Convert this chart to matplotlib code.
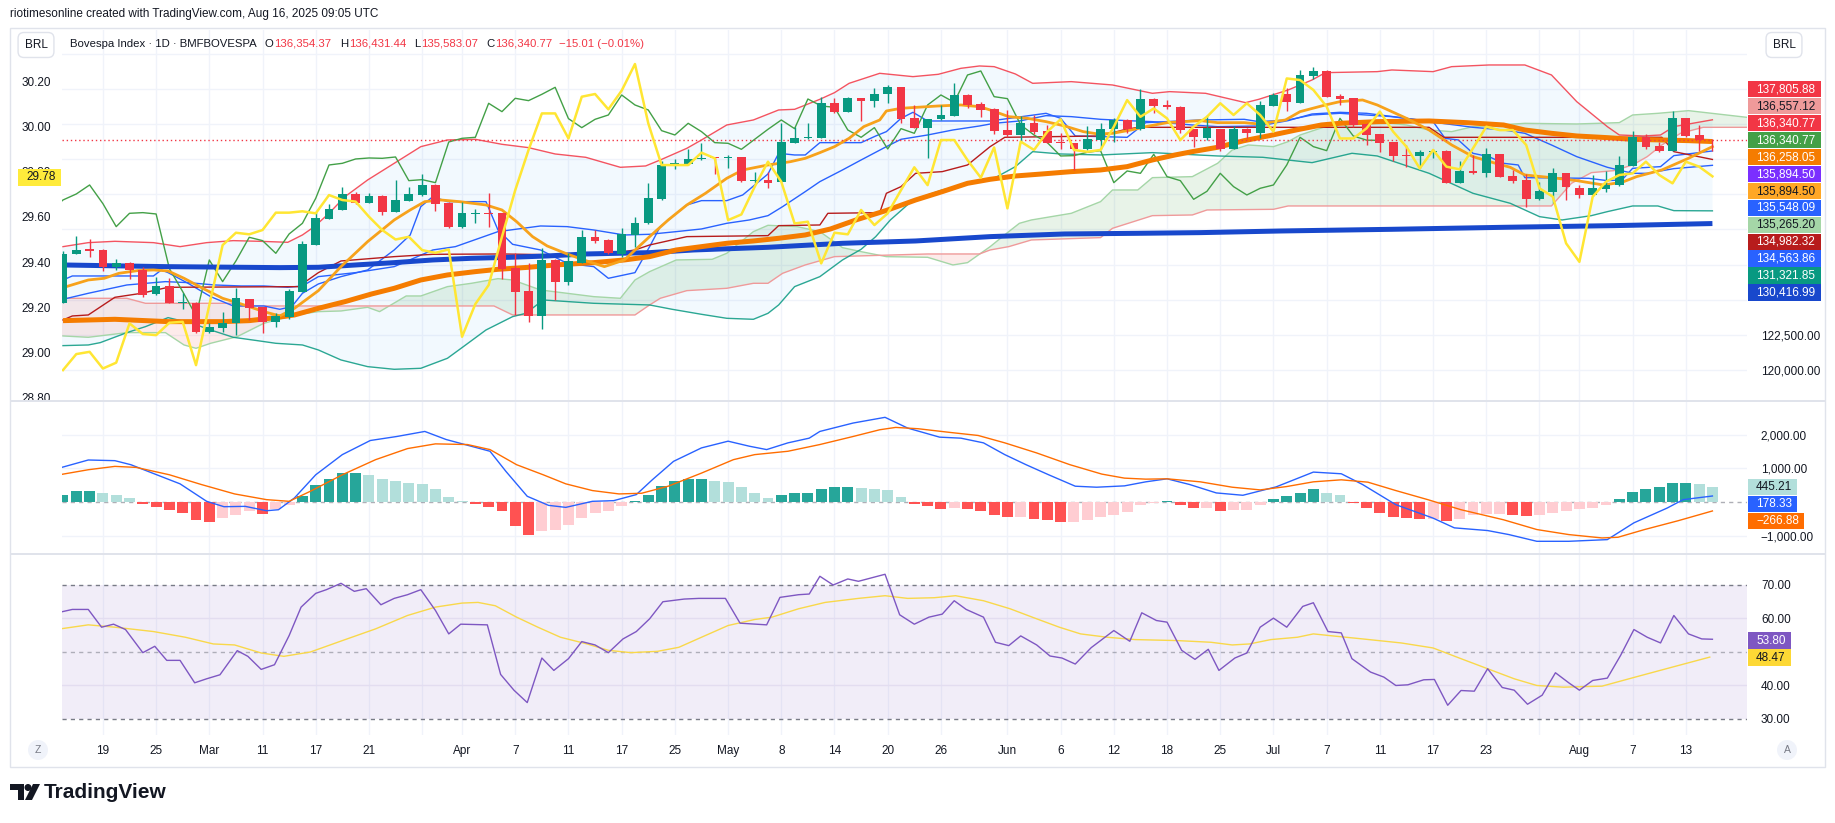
import numpy as np
import pandas as pd
import matplotlib
matplotlib.use("Agg")
import matplotlib.pyplot as plt
from matplotlib.patches import Rectangle, Ellipse, Polygon

plt.rcParams['font.family'] = ['Liberation Sans', 'DejaVu Sans']

W, H = 1835, 823
INK = '#131722'
UP, DOWN = '#089981', '#F23645'

# trading days on B3, Feb 14 - Aug 15 2025
b3_holidays = ['2025-03-03', '2025-03-04', '2025-04-18', '2025-04-21', '2025-05-01', '2025-06-19']
days = pd.bdate_range('2025-02-14', '2025-08-15')
days = days[~days.isin(pd.to_datetime(b3_holidays))]

tick_days = ['2025-02-19', '2025-02-25', '2025-03-05', '2025-03-11', '2025-03-17', '2025-03-21',
             '2025-04-01', '2025-04-07', '2025-04-11', '2025-04-17', '2025-04-25', '2025-05-02',
             '2025-05-08', '2025-05-14', '2025-05-20', '2025-05-26', '2025-06-02', '2025-06-06',
             '2025-06-12', '2025-06-18', '2025-06-25', '2025-07-01', '2025-07-07', '2025-07-11',
             '2025-07-17', '2025-07-23', '2025-08-01', '2025-08-07', '2025-08-13']
tick_labels = ['19', '25', 'Mar', '11', '17', '21', 'Apr', '7', '11', '17', '25', 'May', '8', '14',
               '20', '26', 'Jun', '6', '12', '18', '25', 'Jul', '7', '11', '17', '23', 'Aug', '7', '13']
grid_only_days = ['2025-03-27', '2025-07-29']

# Bovespa daily OHLC
opens = [124784, 128226, 128582, 128535, 127301, 127585, 127111, 125378, 125971, 124737,
         124737, 122719, 123004, 123312, 125021, 124452, 123431, 123787, 125567, 128915,
         130767, 131408, 132523, 131906, 132381, 131265, 132049, 132452, 133164, 131882,
         130197, 131099, 131194, 131146, 127229, 125615, 123858, 127823, 126280, 127633,
         129437, 129247, 128250, 129603, 130434, 132167, 134541, 134660, 135016, 135135,
         135087, 135135, 133473, 133520, 133402, 136179, 136488, 136535, 138981, 138387,
         139337, 139171, 139622, 140120, 137912, 137248, 137841, 138102, 139574, 138933,
         138577, 137081, 136725, 137556, 137010, 136227, 136132, 135704, 136369, 137129,
         137794, 137153, 139289, 138862, 138719, 137129, 136535, 137129, 135752, 137176,
         136844, 138814, 139622, 139028, 140951, 141283, 139503, 139337, 137509, 136773,
         136203, 135301, 135253, 135538, 135586, 133330, 134161, 133995, 135348, 133805,
         133520, 132143, 132689, 133995, 132927, 132452, 132903, 133141, 134541, 136559,
         135918, 135610, 137912, 136725, 136354.37]
highs = [128464, 129532, 129295, 128582, 127870, 127680, 127301, 126636, 126517, 125496,
         124855, 123312, 124119, 125805, 125068, 124499, 124024, 125734, 129176, 131265,
         131811, 133022, 132689, 132571, 132428, 133520, 132998, 133924, 133211, 131930,
         131977, 131431, 132571, 131194, 128298, 127585, 128654, 127870, 128345, 129959,
         129959, 129295, 130078, 130909, 133283, 134897, 134992, 135728, 136132, 135182,
         135277, 135182, 134114, 134114, 137604, 137319, 137604, 139408, 139337, 139408,
         139384, 140049, 140286, 140168, 138862, 137889, 138862, 140405, 139622, 139099,
         138624, 138506, 138078, 138150, 137437, 136891, 136179, 137366, 137604, 137912,
         137841, 139978, 139337, 139218, 138767, 137176, 138150, 137176, 137366, 137224,
         139147, 139693, 140049, 141355, 141592, 141355, 139645, 139384, 137556, 136820,
         136250, 135989, 135657, 135728, 135633, 134874, 135301, 135776, 135396, 134233,
         133948, 133402, 134399, 134043, 133164, 133876, 134185, 135230, 137034, 136797,
         136250, 138435, 137960, 137437, 136431.44]
lows = [124784, 128226, 128060, 127063, 127111, 126493, 125211, 125330, 124737, 124333,
        122600, 122647, 122719, 122481, 123550, 122647, 123027, 123597, 125520, 128868,
        130719, 131360, 131811, 131859, 131051, 131218, 132001, 132405, 131336, 130126,
        130126, 130434, 130197, 126493, 123906, 123431, 122885, 124974, 126042, 127585,
        129010, 128226, 128013, 128772, 130387, 132120, 134280, 134613, 134945, 133971,
        134399, 133402, 133283, 132927, 133354, 136132, 136440, 136488, 138268, 138340,
        137746, 138696, 139028, 137604, 137200, 135063, 137794, 138055, 138624, 138031,
        136797, 136559, 136250, 136797, 136132, 135704, 134233, 135657, 135704, 136250,
        136844, 137105, 138316, 138553, 136891, 135894, 136369, 135610, 135704, 136488,
        136488, 138767, 138458, 138981, 140690, 139408, 138862, 137319, 136013, 135538,
        134874, 134423, 134351, 135063, 133283, 133283, 133948, 133710, 133710, 133330,
        131574, 132096, 131906, 132096, 132215, 132357, 132689, 133093, 134494, 135704,
        135538, 135562, 136559, 135610, 135583.07]
closes = [128250, 128535, 128488, 127301, 127585, 127111, 125330, 125971, 124737, 124855,
          122719, 123075, 123360, 125093, 124428, 123431, 123834, 125615, 128939, 130790,
          131455, 132523, 131859, 132381, 131241, 132096, 132523, 133164, 131835, 130197,
          131146, 131194, 131099, 127206, 125567, 123858, 127823, 126280, 127752, 129437,
          129200, 128298, 129675, 130434, 132215, 134589, 134707, 135016, 135087, 135063,
          135158, 133473, 133544, 133330, 136227, 136488, 136559, 138981, 138387, 139337,
          139171, 139622, 140120, 137889, 137248, 137841, 138150, 139574, 138862, 138506,
          137034, 136725, 137556, 136963, 136179, 136132, 135704, 136417, 137129, 137794,
          137176, 139289, 138791, 138696, 137081, 136559, 137248, 135728, 137176, 136844,
          138862, 139574, 139052, 140998, 141283, 139455, 139313, 137437, 136725, 136179,
          135230, 135254, 135491, 135610, 133330, 134161, 133995, 135348, 133758, 133473,
          132143, 132713, 133995, 133046, 132452, 132927, 133164, 134589, 136559, 135894,
          135610, 137912, 136654, 136356, 136340.77]

# overlay symbol on the left scale (yellow)
yellow = [28.921, 28.992, 29.002, 28.928, 28.954, 29.128, 29.081, 29.076, 29.131, 29.135,
          28.943, 29.209, 29.475, 29.530, 29.523, 29.542, 29.619, 29.619, 29.625, 29.616,
          29.697, 29.675, 29.668, 29.601, 29.542, 29.500, 29.512, 29.453, 29.441, 29.456,
          29.069, 29.214, 29.298, 29.512, 29.719, 29.897, 30.059, 30.059, 29.948, 30.133,
          30.145, 30.077, 30.160, 30.278, 30.015, 29.830, 29.830, 29.830, 29.885, 29.860,
          29.586, 29.611, 29.734, 29.845, 29.756, 29.571, 29.579, 29.394, 29.530, 29.523,
          29.631, 29.564, 29.616, 29.719, 29.820, 29.741, 29.941, 29.941, 29.852, 29.774,
          29.908, 29.638, 29.934, 29.897, 29.978, 30.033, 29.897, 29.889, 29.897, 30.000,
          30.118, 30.044, 30.081, 30.037, 29.941, 30.000, 30.044, 30.104, 30.052, 30.104,
          30.052, 29.978, 30.214, 30.207, 30.163, 30.089, 29.948, 29.948, 29.993, 30.067,
          29.978, 29.911, 29.815, 29.897, 29.823, 29.811, 29.904, 30.000, 29.985, 29.985,
          29.919, 29.727, 29.690, 29.483, 29.401, 29.690, 29.756, 29.786, 29.793, 29.845,
          29.786, 29.749, 29.845, 29.823, 29.78]

# Bollinger bands (x in bar positions)
bb_up_x = [0.0, 1.9, 3.9, 6.8, 8.8, 10.8, 12.8, 14.8, 16.9, 18.0, 18.9, 20.0, 21.2, 22.9, 24.9,
           26.9, 28.9, 31.0, 33.0, 35.0, 37.0, 39.3, 41.9, 43.8, 44.9, 46.9, 48.0, 49.9, 51.9,
           53.8, 55.0, 56.9, 58.0, 59.1, 61.4, 63.9, 65.8, 67.5, 68.9, 70.0, 71.6, 72.9, 75.8,
           78.9, 81.9, 83.2, 85.9, 88.9, 89.9, 92.1, 93.9, 94.9, 98.8, 99.9, 103.0, 104.4, 107.2,
           109.9, 111.9, 113.8, 116.1, 117.0, 118.8, 120.1, 121.1, 124.0]
bb_up_v = [128772, 129057, 129152, 129057, 128772, 129057, 129200, 129152, 129081, 129603,
           130197, 131146, 132333, 133520, 134707, 135894, 136369, 136417, 136061, 135823,
           135372, 135135, 134423, 134518, 134945, 135776, 136369, 137437, 137794, 138506,
           138553, 139266, 139740, 140405, 141117, 140880, 141046, 141473, 141640, 141592,
           141070, 140405, 140524, 140286, 139693, 139812, 139693, 139028, 139266, 139930,
           140642, 141165, 141236, 141355, 141236, 141592, 141711, 141711, 141000, 139099,
           137319, 136725, 136654, 136725, 137319, 137806]
bb_lo_x = [0.0, 1.9, 2.8, 4.8, 6.2, 7.9, 9.7, 11.1, 12.8, 14.6, 16.0, 18.0, 19.2, 20.9, 22.9,
           24.9, 26.9, 28.9, 30.1, 31.8, 33.8, 34.8, 36.1, 39.9, 44.1, 45.8, 48.0, 49.9, 51.9,
           53.0, 53.8, 55.0, 56.9, 58.6, 60.0, 61.1, 62.2, 63.9, 66.1, 68.3, 70.0, 71.6, 72.9,
           75.0, 78.0, 81.9, 86.8, 90.2, 93.9, 96.9, 98.8, 102.7, 106.0, 108.8, 111.0, 112.7,
           114.9, 116.1, 118.0, 119.9, 121.1, 124.0]
bb_lo_v = [121722, 121769, 121935, 122647, 123075, 123716, 123312, 122837, 122315, 122078,
           121888, 121769, 121413, 120701, 120226, 120036, 120107, 120820, 121651, 122837,
           123787, 124024, 124974, 124737, 124618, 124309, 123953, 123668, 123597, 124024,
           124618, 125924, 126636, 127823, 128582, 129485, 130672, 132096, 132808, 133283,
           133639, 134470, 135538, 135372, 135301, 135467, 135230, 135135, 134755, 135420,
           135230, 133995, 132571, 131859, 130909, 130672, 130980, 131265, 131669, 131669,
           131336, 131322]
bb_mid_x = [0.0, 1.9, 4.8, 7.7, 9.4, 11.4, 13.4, 15.1, 16.9, 18.0, 19.2, 22.0, 24.9, 27.8, 29.5,
            32.7, 35.9, 37.9, 39.9, 42.2, 44.1, 46.1, 48.0, 49.9, 51.6, 53.0, 54.1, 55.8, 56.9,
            58.6, 60.0, 61.9, 63.0, 65.0, 66.9, 68.9, 70.0, 71.9, 73.9, 75.8, 78.0, 80.0, 81.9,
            84.9, 86.8, 89.9, 92.1, 93.9, 96.0, 98.0, 101.0, 102.7, 106.0, 108.3, 109.9, 111.9,
            113.8, 116.1, 118.0, 119.1, 121.1, 124.0]
bb_mid_v = [125021, 125449, 126042, 126280, 126209, 126042, 125971, 125971, 125876, 125971,
            126636, 126921, 127348, 128535, 128772, 129841, 130244, 130197, 129959, 129603,
            129651, 129841, 130031, 130434, 130672, 130980, 131621, 132689, 133402, 134233,
            134945, 135894, 136417, 136725, 137081, 137366, 137556, 137722, 138102, 138031,
            137841, 137746, 137675, 137437, 137319, 137366, 137746, 138221, 138340, 138268,
            137912, 137675, 137271, 137081, 136844, 136013, 135182, 134423, 133995, 133995,
            134328, 134564]

# Ichimoku
tk_x = [0.0, 0.7, 6.8, 7.4, 7.9, 9.4, 11.1, 12.8, 15.1, 16.3, 17.2, 18.0, 19.2, 20.9, 22.9,
        24.9, 26.1, 26.9, 27.8, 28.9, 31.8, 32.7, 33.8, 35.9, 37.9, 39.9, 41.0, 43.0, 44.1, 44.9,
        46.9, 48.0, 49.9, 51.1, 53.0, 53.8, 55.0, 55.8, 56.9, 60.0, 61.1, 61.9, 63.0, 63.9, 65.0,
        69.7, 73.9, 75.0, 76.1, 80.0, 81.4, 85.5, 88.8, 89.9, 92.1, 93.9, 96.0, 99.9, 103.0,
        103.9, 104.9, 106.0, 107.2, 108.3, 109.4, 109.9, 114.7, 116.1, 117.2, 118.0, 120.1,
        121.1, 124.0]
tk_v = [126398, 126683, 126683, 127111, 126921, 126161, 125211, 124547, 124547, 124309,
        124499, 125449, 126114, 126636, 127111, 128535, 129603, 131621, 132333, 131977,
        131977, 129959, 128938, 128535, 127585, 127348, 126517, 126921, 128772, 130197,
        131740, 132049, 132049, 132452, 133948, 135420, 135301, 135301, 136179, 136179,
        136654, 136963, 137912, 138340, 137722, 137722, 138268, 137912, 136654, 136559,
        137604, 137794, 137841, 137675, 137794, 138150, 138268, 138031, 137675, 136488,
        136369, 135420, 135182, 134707, 134589, 133687, 133639, 133473, 133520, 134351,
        134470, 135254, 135586]
kj_x = [0.0, 0.7, 1.9, 3.9, 5.9, 7.9, 17.7, 19.2, 20.9, 24.9, 27.8, 33.0, 37.9, 41.0, 43.0,
        44.1, 46.9, 53.0, 53.8, 56.9, 57.5, 61.4, 61.9, 63.0, 64.1, 66.1, 68.0, 69.7, 70.8,
        78.0, 79.7, 80.8, 102.7, 103.8, 120.2, 121.1, 124.0]
kj_v = [123550, 123834, 123906, 125164, 125449, 125876, 125923, 126921, 127752, 128060,
        128226, 128250, 128179, 128250, 128535, 128891, 129485, 129556, 130268, 130315,
        131146, 131194, 132571, 133046, 133995, 134114, 134589, 135894, 136559, 136654,
        137081, 137271, 137271, 136559, 136559, 135538, 134982]
span_a_x = [0.0, 1.9, 4.8, 7.7, 9.1, 10.0, 11.1, 13.1, 15.1, 17.4, 19.2, 20.9, 22.9, 23.8, 25.8,
            26.9, 28.9, 30.7, 32.7, 33.8, 35.9, 37.9, 39.9, 41.9, 43.0, 44.1, 46.1, 48.8, 49.9,
            51.9, 53.0, 55.2, 56.9, 58.6, 60.0, 61.9, 65.0, 66.9, 68.0, 69.7, 71.1, 71.9, 72.8,
            75.8, 78.0, 78.9, 80.8, 81.9, 84.9, 86.8, 87.9, 89.1, 91.0, 92.1, 93.0, 94.9, 96.0,
            99.9, 101.0, 102.7, 104.4, 106.0, 109.9, 113.8, 117.0, 118.0, 119.9, 122.2, 126.8]
span_a_v = [122410, 122315, 122647, 122647, 121769, 121531, 121888, 122363, 123312, 123906,
            124143, 124190, 124452, 124143, 125259, 125259, 125924, 126161, 126493, 126398,
            125686, 125449, 125211, 125093, 126398, 126992, 127823, 127870, 128298, 129841,
            130292, 130197, 129841, 128701, 128416, 128060, 128013, 127467, 127633, 128772,
            129841, 130434, 130672, 131146, 131977, 132808, 132808, 133687, 133758, 134707,
            135657, 136013, 135894, 136250, 136725, 137319, 137509, 137556, 137437, 137081,
            136963, 137319, 137556, 137509, 137604, 138150, 138268, 138458, 137960]
span_b_x = [0.0, 4.8, 6.2, 12.8, 13.1, 32.4, 33.8, 43.0, 44.1, 44.9, 46.9, 49.9, 51.9, 53.0,
            54.1, 55.8, 58.0, 65.0, 68.9, 69.7, 71.1, 72.8, 78.0, 78.9, 81.9, 84.9, 86.0, 91.0,
            92.1, 111.9, 113.4, 114.9, 116.6, 118.0, 119.1, 120.2, 121.6, 123.3, 126.8]
span_b_v = [125093, 125093, 124737, 124737, 124547, 124547, 123906, 123906, 124618, 125093,
            125639, 125805, 126161, 126161, 126873, 127467, 128060, 128250, 128250, 128535,
            128772, 129247, 129414, 130078, 130980, 131028, 131383, 131431, 131669, 131669,
            133283, 134043, 134185, 134589, 135182, 136013, 136844, 137271, 137271]
lag_shift = 25

# moving averages
sma_mid_x = [0.0, 3.9, 7.9, 12.0, 14.0, 16.0, 17.4, 19.2, 21.2, 23.2, 24.9, 26.9, 28.9, 31.0,
             32.7, 35.0, 37.0, 39.9, 42.2, 44.1, 46.1, 48.0, 49.9, 51.9, 53.8, 55.8, 57.7, 59.7,
             61.9, 64.1, 66.1, 68.0, 69.7, 71.6, 73.6, 75.8, 78.0, 80.0, 81.9, 83.6, 84.9, 86.8,
             88.8, 90.7, 92.7, 94.6, 96.0, 98.8, 102.7, 105.5, 108.3, 109.9, 111.9, 113.8, 116.1,
             118.0, 120.2, 122.2, 124.0]
sma_mid_v = [123502, 123597, 123431, 123431, 123502, 123716, 123906, 124380, 124855, 125401,
             125805, 126398, 126755, 126992, 127158, 127301, 127467, 127633, 127823, 128060,
             128535, 128772, 129010, 129176, 129366, 129603, 130031, 130700, 131350, 132096,
             132689, 133283, 133568, 133805, 133948, 134114, 134233, 134470, 134945, 135301,
             135538, 135847, 136322, 136678, 137081, 137437, 137556, 137675, 137722, 137604,
             137437, 137081, 136844, 136654, 136535, 136417, 136369, 136322, 136258]
ema_fast_x = [0.0, 1.9, 3.1, 4.2, 5.6, 6.8, 7.9, 9.1, 10.5, 12.0, 13.4, 15.1, 16.3, 17.4, 19.2,
              20.9, 22.9, 24.9, 26.1, 27.2, 28.4, 29.8, 31.8, 33.0, 34.1, 35.3, 36.4, 37.9, 39.3,
              40.7, 42.2, 44.1, 45.5, 46.9, 48.3, 49.9, 51.1, 53.0, 54.7, 55.8, 56.9, 58.0, 59.1,
              60.2, 61.4, 61.9, 63.0, 65.8, 67.5, 68.9, 69.7, 71.1, 72.5, 73.9, 75.3, 76.7, 77.8,
              78.9, 80.3, 81.4, 83.0, 85.5, 86.8, 88.8, 89.9, 91.9, 93.0, 94.9, 96.0, 97.7, 98.8,
              99.9, 101.0, 102.7, 104.4, 106.0, 107.7, 108.8, 109.9, 111.9, 113.8, 115.8, 117.2,
              118.3, 120.2, 122.2, 124.0]
ema_fast_v = [125853, 126398, 126517, 126873, 127063, 127111, 127040, 126517, 125805, 125093,
              124689, 124143, 123834, 124380, 125639, 127348, 129129, 130672, 131384, 131977,
              132096, 131977, 131740, 131384, 130553, 129485, 128820, 128250, 127775, 127348,
              127823, 129485, 130672, 131740, 132571, 133639, 134233, 134589, 134826, 135063,
              135467, 135894, 136488, 137319, 137794, 138435, 138625, 138791, 138862, 138743,
              138506, 138031, 137912, 137675, 137366, 136963, 136797, 136844, 137081, 137319,
              137604, 137746, 137604, 137604, 137509, 137794, 138387, 138862, 139099, 139218,
              138862, 138387, 137912, 137081, 136013, 135182, 134707, 134423, 133877, 133687,
              133473, 133164, 133354, 133758, 134233, 135063, 135894]
sma_long_x = [0.0, 7.7, 16.3, 19.2, 22.0, 24.9, 27.8, 30.7, 33.6, 36.4, 39.3, 44.1, 47.4, 53.0,
              58.6, 64.1, 69.7, 75.3, 80.8, 85.5, 91.6, 99.9, 108.3, 116.6, 124.0]
sma_long_v = [127467, 127348, 127277, 127301, 127467, 127633, 127823, 127942, 128013, 128108,
              128250, 128345, 128535, 128725, 129010, 129176, 129485, 129675, 129722, 129770,
              129888, 130007, 130149, 130268, 130417]

# MACD
macd_hist = [200, 320, 340, 270, 220, 130, -60, -140, -230, -340,
             -530, -590, -480, -380, -260, -370, -200, -80, 170, 500,
             690, 850, 870, 810, 690, 620, 580, 540, 400, 160,
             40, -60, -140, -280, -700, -990, -870, -830, -690, -480,
             -340, -280, -120, 20, 220, 470, 630, 690, 690, 630,
             600, 440, 260, 130, 220, 270, 270, 400, 440, 460,
             420, 400, 370, 160, -50, -110, -220, -180, -220, -260,
             -380, -460, -460, -500, -540, -600, -600, -540, -460, -380,
             -300, -100, -40, 20, -80, -180, -180, -280, -250, -240,
             -80, 80, 180, 280, 380, 260, 200, -20, -180, -320,
             -450, -480, -500, -500, -560, -500, -400, -360, -360, -380,
             -430, -400, -320, -280, -220, -180, -100, 80, 300, 400,
             440, 580, 580, 540, 445.21]
macd_x = [-1.0, 1.9, 3.9, 5.1, 6.4, 8.8, 10.8, 12.1, 13.7, 15.3, 16.2, 17.4, 19.0, 21.0, 23.1,
          25.1, 27.2, 28.8, 30.4, 32.1, 33.3, 34.9, 36.5, 37.8, 39.8, 41.4, 43.1, 44.3, 45.9,
          48.0, 50.0, 51.6, 52.9, 54.5, 56.1, 56.9, 59.4, 61.8, 63.5, 65.9, 67.5, 69.2, 70.8,
          72.4, 74.1, 76.1, 77.7, 79.8, 81.4, 83.0, 84.7, 86.7, 88.7, 91.2, 94.0, 96.1, 97.7,
          100.2, 103.0, 104.6, 107.1, 108.7, 110.8, 113.2, 116.1, 118.1, 120.6, 121.8, 124.0]
macd_v = [930, 1250, 1230, 1110, 910, 540, 20, -140, -130, -260, -230, 120, 810, 1410, 1830,
          1950, 2100, 1860, 1690, 1510, 910, 170, -100, -160, 20, 40, 220, 660, 1210, 1610,
          1810, 1660, 1560, 1760, 1900, 2100, 2350, 2520, 2200, 1930, 1900, 1760, 1410, 1110,
          810, 470, 440, 480, 600, 690, 520, 270, 200, 450, 890, 840, 520, -80, -480, -770,
          -850, -970, -1170, -1170, -1120, -620, -180, 70, 178.33]
signal_x = [-1.0, 1.9, 3.9, 5.5, 8.0, 10.4, 12.9, 15.3, 17.0, 18.6, 21.0, 23.5, 25.9, 28.0,
            30.4, 32.1, 34.1, 36.1, 37.8, 39.8, 41.8, 43.5, 45.5, 48.0, 50.4, 52.0, 54.5, 56.9,
            59.4, 61.4, 62.6, 64.3, 66.7, 68.8, 70.8, 73.2, 75.7, 78.1, 79.8, 81.4, 83.0, 85.5,
            87.9, 90.0, 92.0, 94.0, 96.1, 98.1, 100.2, 102.6, 105.1, 108.3, 110.8, 113.2, 115.7,
            116.9, 118.9, 121.4, 124.0]
signal_v = [760, 960, 1060, 1030, 810, 520, 240, 70, 20, 320, 810, 1260, 1590, 1730, 1710,
            1560, 1110, 810, 540, 340, 240, 260, 470, 860, 1260, 1410, 1510, 1710, 1950, 2150,
            2220, 2180, 2070, 1980, 1760, 1460, 1110, 830, 710, 680, 690, 600, 440, 360, 460,
            600, 660, 590, 340, 70, -230, -530, -820, -970, -1070, -1050, -820, -560, -266.88]

# RSI
rsi_x = [-0.2, 0.7, 1.9, 2.9, 3.8, 4.7, 6.0, 6.9, 7.8, 8.8, 9.9, 10.8, 11.8, 13.1, 13.9, 14.9,
         15.9, 17.0, 17.9, 19.0, 19.8, 20.9, 21.9, 22.8, 23.9, 24.9, 25.9, 26.9, 28.0, 29.0,
         29.9, 31.9, 32.9, 33.9, 34.9, 36.0, 36.9, 38.0, 39.0, 40.0, 41.0, 42.1, 43.1, 44.1,
         45.1, 46.7, 47.8, 49.8, 50.9, 52.9, 53.9, 55.3, 56.1, 56.9, 57.9, 59.0, 59.8, 61.8,
         62.9, 64.0, 65.1, 66.1, 67.0, 67.9, 69.2, 70.1, 71.1, 72.0, 73.2, 74.2, 75.1, 76.1,
         77.3, 79.0, 80.2, 81.1, 82.2, 83.0, 84.1, 85.1, 86.1, 86.9, 88.1, 89.0, 90.0, 91.0,
         92.0, 93.2, 94.0, 95.1, 96.1, 96.9, 98.3, 99.3, 100.2, 101.1, 102.3, 103.1, 104.1,
         105.1, 106.1, 107.1, 108.2, 109.1, 110.1, 111.2, 112.2, 113.2, 114.0, 115.0, 116.1,
         117.1, 118.1, 119.1, 120.1, 121.1, 122.2, 123.2, 124.0]
rsi_v = [61.9, 62.7, 62.7, 57.4, 58.3, 56.7, 49.8, 51.7, 47.5, 47.5, 40.8, 42.0, 43.2, 50.4,
         48.7, 44.8, 46.2, 54.9, 63.4, 67.5, 68.6, 70.5, 68.1, 68.9, 64.1, 66.0, 67.1, 68.6,
         62.4, 55.4, 58.3, 58.1, 43.3, 38.6, 34.9, 48.2, 44.5, 48.0, 53.1, 52.1, 49.8, 53.9,
         56.1, 59.9, 65.0, 65.8, 66.0, 66.0, 58.6, 58.1, 66.3, 67.1, 67.3, 72.6, 70.0, 71.8,
         71.1, 73.2, 61.1, 58.3, 60.4, 61.3, 65.3, 62.7, 60.4, 52.9, 51.9, 54.8, 52.1, 48.8,
         48.2, 46.4, 51.3, 56.4, 53.2, 61.7, 59.4, 58.9, 50.5, 47.8, 50.8, 44.5, 48.2, 49.7,
         57.4, 60.1, 57.4, 63.6, 64.7, 56.1, 55.7, 48.0, 44.0, 42.5, 40.0, 40.2, 41.7, 41.8,
         34.1, 38.5, 38.3, 45.0, 39.4, 38.6, 34.4, 37.1, 43.8, 40.8, 38.6, 41.5, 42.2, 49.0,
         56.7, 54.4, 52.7, 60.9, 55.4, 53.9, 53.8]
rsi_ma_x = [-0.2, 1.9, 3.9, 6.8, 9.2, 11.3, 12.9, 14.9, 16.6, 18.6, 21.0, 23.5, 25.9, 28.0,
            30.0, 31.2, 32.5, 34.1, 35.7, 37.4, 39.4, 41.0, 42.7, 44.7, 46.3, 48.0, 50.0, 52.0,
            53.3, 55.3, 57.3, 59.8, 61.8, 63.5, 65.5, 67.1, 69.2, 71.2, 73.2, 74.9, 76.5, 78.5,
            80.6, 83.8, 86.3, 87.9, 89.2, 90.8, 92.8, 94.0, 95.7, 97.7, 100.6, 103.0, 105.1,
            107.1, 109.1, 110.8, 112.8, 115.7, 118.1, 121.0, 123.8]
rsi_ma_v = [56.9, 58.1, 57.4, 56.1, 54.4, 52.4, 52.1, 49.7, 48.7, 50.0, 53.4, 56.9, 60.9, 63.4,
            64.6, 64.8, 63.8, 60.4, 57.4, 54.4, 52.4, 50.5, 49.8, 50.2, 51.4, 54.4, 57.9, 59.7,
            60.4, 62.9, 64.8, 66.0, 66.8, 66.0, 66.2, 66.8, 65.3, 62.9, 59.9, 57.4, 55.4, 54.4,
            53.7, 53.4, 52.9, 52.1, 52.4, 53.7, 54.4, 55.4, 54.7, 53.9, 52.7, 51.2, 48.0, 45.0,
            42.0, 40.0, 39.5, 39.8, 42.4, 45.5, 48.47]

# last-value tags on the price scale
price_tags = ['137,805.88', '136,557.12', '136,340.77', '136,340.77', '136,258.05', '135,894.50',
              '135,894.50', '135,548.09', '135,265.20', '134,982.32', '134,563.86', '131,321.85',
              '130,416.99']
price_tag_bg = ['#F23645', '#EF9A9A', '#F23645', '#43A047', '#F57C00', '#7B2FFF', '#FFA726',
                '#2962FF', '#A5D6A7', '#B71C1C', '#2962FF', '#089981', '#1848CC']
price_tag_fg = ['white', INK, 'white', 'white', 'white', 'white', INK,
                'white', INK, 'white', 'white', 'white', 'white']
macd_tags = ['445.21', '178.33', '\u2212266.88']
macd_tag_bg = ['#B2DFDB', '#2962FF', '#FF6D00']
macd_tag_fg = [INK, 'white', 'white']
rsi_tags = ['53.80', '48.47']
rsi_tag_bg = ['#7E57C2', '#FDD835']
rsi_tag_fg = ['white', INK]
last_close = 136340.77
legend_title = 'Bovespa Index \u00b7 1D \u00b7 BMFBOVESPA'
legend_ohlc = [('O', '136,354.37'), ('H', '136,431.44'), ('L', '135,583.07'), ('C', '136,340.77')]
legend_change = '\u221215.01 (\u22120.01%)'

x = np.arange(len(days))
o, h, l, c = (np.array(a, dtype=float) for a in (opens, highs, lows, closes))

fig = plt.figure(figsize=(W / 100, H / 100), dpi=100)
fig.patch.set_facecolor('white')
renderer = fig.canvas.get_renderer()


def pane(x0, y0, x1, y1):
    return fig.add_axes([x0 / W, 1 - y1 / H, (x1 - x0) / W, (y1 - y0) / H])


def ftext(px, py, s, **kw):
    return fig.text(px / W, 1 - py / H, s, **kw)


def frect(x0, y0, x1, y1, **kw):
    fig.add_artist(Rectangle((x0 / W, 1 - y1 / H), (x1 - x0) / W, (y1 - y0) / H,
                             transform=fig.transFigure, **kw))


ax = pane(62, 30, 1747, 401)
ax_m = pane(62, 401, 1747, 554)
ax_r = pane(62, 554, 1747, 735)

xlim = (-0.075, 126.6)
grid_c = '#F0F3FA'
tick_idx = [days.get_loc(pd.Timestamp(d)) for d in tick_days]
grid_idx = tick_idx + [days.get_loc(pd.Timestamp(d)) for d in grid_only_days]

# ---------- main pane ----------
ax_y = ax.twinx()          # left scale for the yellow overlay

for a in (ax, ax_m, ax_r, ax_y):
    a.set_xlim(*xlim)
    a.set_facecolor('none')
    for s in a.spines.values():
        s.set_visible(False)
    a.tick_params(length=0, labelsize=8.5, colors=INK)
for a in (ax, ax_m, ax_r):
    for gi in grid_idx:
        a.axvline(gi, color=grid_c, lw=1, zorder=0)
    a.yaxis.tick_right()
    a.yaxis.set_label_position('right')

ax.set_ylim(117778, 144202)
for p in np.arange(117500, 145001, 2500):
    ax.axhline(p, color=grid_c, lw=1, zorder=0)
price_ticks = [120000, 122500]   # the rest sit under the value tags
ax.set_yticks(price_ticks)
ax.set_yticklabels([f'{v:,.2f}' for v in price_ticks])
ax.tick_params(axis='y', pad=10, labelleft=False, labelright=True)
ax.set_xticks([])

gx = np.linspace(-1, 127, 3000)
bu = np.interp(gx, bb_up_x, bb_up_v)
bl = np.interp(gx, bb_lo_x, bb_lo_v)
ax.fill_between(gx, bl, bu, where=gx <= 124.0, color='#2196F3', alpha=0.055, lw=0, zorder=1)
sa = np.interp(gx, span_a_x, span_a_v)
sb = np.interp(gx, span_b_x, span_b_v)
ax.fill_between(gx, sa, sb, where=sa >= sb, interpolate=True, color='#43A047', alpha=0.12, lw=0, zorder=1)
ax.fill_between(gx, sa, sb, where=sa < sb, interpolate=True, color='#F44336', alpha=0.10, lw=0, zorder=1)

ax.plot(span_a_x, span_a_v, color='#A5D6A7', lw=1, zorder=2)
ax.plot(span_b_x, span_b_v, color='#EF9A9A', lw=1, zorder=2)
ax.plot(bb_up_x, bb_up_v, color='#F23645', lw=1, alpha=0.85, zorder=2)
ax.plot(bb_lo_x, bb_lo_v, color='#089981', lw=1, alpha=0.85, zorder=2)
ax.plot(bb_mid_x, bb_mid_v, color='#2962FF', lw=1, zorder=2)
ax.plot(tk_x, tk_v, color='#2962FF', lw=1, zorder=2)
ax.plot(kj_x, kj_v, color='#B71C1C', lw=1, zorder=2)
ax.plot(x - lag_shift, c, color='#43A047', lw=1, zorder=2)
ax.plot(sma_long_x, sma_long_v, color='#1848CC', lw=3.6, solid_capstyle='butt', zorder=3)
ax.plot(sma_mid_x, sma_mid_v, color='#F57C00', lw=3.6, solid_capstyle='butt', zorder=3)
ax.plot(ema_fast_x, ema_fast_v, color='#F7A21B', lw=2, zorder=3)
ax.axhline(last_close, color='#F23645', lw=1, ls=(0, (1, 2)), zorder=3)

col = np.where(c >= o, UP, DOWN)
ax.vlines(x, l, h, colors=col, lw=1, zorder=5)
ax.bar(x, np.maximum(np.abs(c - o), 50), bottom=np.minimum(o, c), width=0.66,
       color=col, lw=0, zorder=6)

ax_y.set_ylim(28.784, 30.4288)
ax_y.yaxis.tick_left()
left_ticks = [28.8, 29.0, 29.2, 29.4, 29.6, 29.8, 30.0, 30.2]
ax_y.set_yticks(left_ticks)
ax_y.set_yticklabels([f'{v:.2f}' for v in left_ticks])
ax_y.tick_params(axis='y', pad=8, labelleft=True, labelright=False)
ax_y.plot(x, yellow, color='#FFE633', lw=1.8, zorder=4)

# ---------- MACD pane ----------
ax_m.set_ylim(-1548, 3006)
for v in (2000, 1000, -1000):
    ax_m.axhline(v, color=grid_c, lw=1, zorder=0)
ax_m.axhline(0, color='#787B86', lw=1, ls=(0, (3, 3)), alpha=0.6, zorder=1)
hist = np.array(macd_hist, dtype=float)
prev = np.concatenate([[hist[0]], hist[:-1]])
hcol = np.where(hist >= 0, np.where(hist >= prev, '#26A69A', '#B2DFDB'),
                np.where(hist < prev, '#FF5252', '#FFCDD2'))
ax_m.bar(x, hist, width=0.82, color=hcol, lw=0, zorder=2)
ax_m.plot(macd_x, macd_v, color='#2962FF', lw=1, zorder=3)
ax_m.plot(signal_x, signal_v, color='#FF6D00', lw=1, zorder=3)
ax_m.set_yticks([2000, 1000, -1000])
ax_m.set_yticklabels(['2,000.00', '1,000.00', '\u22121,000.00'])
ax_m.tick_params(axis='y', pad=10)
ax_m.set_xticks([])

# ---------- RSI pane ----------
ax_r.set_ylim(25.22, 79.25)
ax_r.axhspan(30, 70, color='#7E57C2', alpha=0.1, lw=0, zorder=0)
for v in (60, 40):
    ax_r.axhline(v, color='#E3DDF0', lw=1, zorder=1)
for v, al in ((70, 1.0), (50, 0.55), (30, 1.0)):
    ax_r.axhline(v, color='#787B86', lw=1, ls=(0, (3, 3)), alpha=al, zorder=1)
ax_r.plot(rsi_ma_x, rsi_ma_v, color='#F9D84A', lw=1, zorder=2)
ax_r.plot(rsi_x, rsi_v, color='#7E57C2', lw=1, zorder=3)
ax_r.set_yticks([70, 60, 40, 30])
ax_r.set_yticklabels(['70.00', '60.00', '40.00', '30.00'])
ax_r.tick_params(axis='y', pad=10)
ax_r.set_xticks(tick_idx)
ax_r.set_xticklabels(tick_labels)
ax_r.tick_params(axis='x', pad=7)

# ---------- chrome ----------
frect(10, 28, 1825, 767, fill=False, ec='#E0E3EB', lw=1)
for yy in (401, 554):
    frect(10, yy - 1, 1825, yy + 1, fc='#E0E3EB', ec='none')

ftext(10, 14, 'riotimesonline created with TradingView.com, Aug 16, 2025 09:05 UTC',
      fontsize=8.5, color=INK, va='center')
for bx in (36, 1784):
    ftext(bx, 45, 'BRL', fontsize=8.5, color=INK, ha='center', va='center',
          bbox=dict(boxstyle='round,pad=0.55,rounding_size=0.5', fc='white', ec='#E0E3EB', lw=1))

# legend line laid out piece by piece
parts = [(legend_title, INK, 8)]
for letter, val in legend_ohlc:
    parts += [(letter, INK, 1), (val, DOWN, 8)]
parts[-1] = (parts[-1][0], DOWN, 6)
parts.append((legend_change, DOWN, 0))
xpos = 70
for s, cc, gap in parts:
    t = ftext(xpos, 44, s, fontsize=8.2, color=cc, va='center')
    xpos += t.get_window_extent(renderer).width + gap

# value tags
for k, (s, bg, fg) in enumerate(zip(price_tags, price_tag_bg, price_tag_fg)):
    y0 = 81 + k * 16.95
    frect(1748, y0, 1821, y0 + 16.2, fc=bg, ec='none')
    ftext(1756, y0 + 8.3, s, fontsize=8.5, color=fg, va='center')
for k, (s, bg, fg) in enumerate(zip(macd_tags, macd_tag_bg, macd_tag_fg)):
    y0 = 479 + k * 16.8
    frect(1748, y0, 1797 + (7 if k == 2 else 0), y0 + 16.2, fc=bg, ec='none')
    ftext(1756, y0 + 8.3, s, fontsize=8.5, color=fg, va='center')
for k, (s, bg, fg) in enumerate(zip(rsi_tags, rsi_tag_bg, rsi_tag_fg)):
    y0 = 632 + k * 17.2
    frect(1748, y0, 1791, y0 + 16.6, fc=bg, ec='none')
    ftext(1756, y0 + 8.5, s, fontsize=8.5, color=fg, va='center')
frect(18, 169, 61, 185.5, fc='#FFEB3B', ec='none')
ftext(26, 177.5, '29.78', fontsize=8.5, color=INK, va='center')

# small round buttons on the time scale
for cx, s in ((38, 'Z'), (1787, 'A')):
    fig.add_artist(Ellipse((cx / W, 1 - 750 / H), 20 / W, 20 / H, transform=fig.transFigure,
                           fc='#F0F3FA', ec='none'))
    ftext(cx, 750, s, fontsize=7.5, color='#787B86', ha='center', va='center')


# TradingView logo
def fpoly(pts, **kw):
    fig.add_artist(Polygon([(px_ / W, 1 - py_ / H) for px_, py_ in pts], closed=True,
                           transform=fig.transFigure, **kw))


fpoly([(10, 784), (24, 784), (24, 800), (18, 800), (18, 790), (10, 790)], fc=INK, ec='none')
fig.add_artist(Ellipse((28 / W, 1 - 787.5 / H), 7 / W, 7 / H, transform=fig.transFigure,
                       fc=INK, ec='none'))
fpoly([(33, 784), (40, 784), (32, 800), (25, 800)], fc=INK, ec='none')
ftext(44, 792, 'TradingView', fontsize=15, fontweight='bold', color=INK, va='center')

fig.savefig('out.png', dpi=100, facecolor='white')
